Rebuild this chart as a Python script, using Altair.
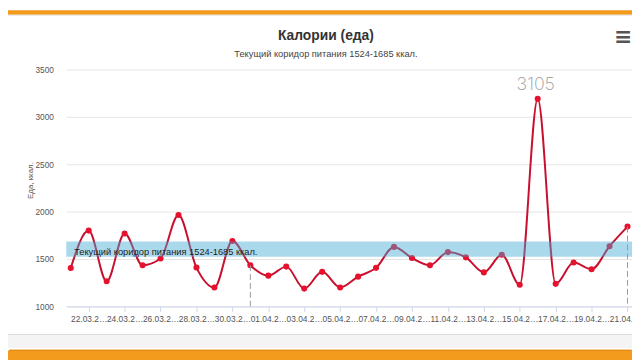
import altair as alt
import pandas as pd

# ---------------- data ----------------
dates = [
    "21.03.2020", "22.03.2020", "23.03.2020", "24.03.2020", "25.03.2020", "26.03.2020",
    "27.03.2020", "28.03.2020", "29.03.2020", "30.03.2020", "31.03.2020", "01.04.2020",
    "02.04.2020", "03.04.2020", "04.04.2020", "05.04.2020", "06.04.2020", "07.04.2020",
    "08.04.2020", "09.04.2020", "10.04.2020", "11.04.2020", "12.04.2020", "13.04.2020",
    "14.04.2020", "15.04.2020", "16.04.2020", "17.04.2020", "18.04.2020", "19.04.2020",
    "20.04.2020", "21.04.2020",
]
calories = [
    1405, 1800, 1265, 1770, 1435, 1505, 1965, 1410, 1200, 1690, 1435, 1325,
    1420, 1188, 1365, 1200, 1314, 1407, 1628, 1511, 1435, 1573, 1518, 1359,
    1545, 1228, 3190, 1238, 1463, 1393, 1635, 1842,
]
label_dates = dates[1::2]
band_low = 1524
band_high = 1685
marker_dates = ["31.03.2020", "21.04.2020"]
peak_note = "3105"
y_ticks = [1000, 1500, 2000, 2500, 3000, 3500]

title_text = "Калории (еда)"
subtitle_text = "Текущий коридор питания 1524-1685 ккал."
band_text = "Текущий коридор питания 1524-1685 ккал."
y_title = "Еда, ккал."

W, H = 573, 240
FONT = "Liberation Sans"

df = pd.DataFrame({"date": dates, "kcal": calories})
band_df = pd.DataFrame({"lo": [band_low], "hi": [band_high],
                        "mid": [(band_low + band_high) / 2], "t": [band_text]})
marker_df = df[df["date"].isin(marker_dates)].assign(base=1000)
peak_df = df[df["kcal"] == df["kcal"].max()].assign(note=peak_note)
one = pd.DataFrame({"t": [""]})

x_enc = alt.X(
    "date:N",
    scale=alt.Scale(type="point", domain=dates, padding=0.25),
    axis=alt.Axis(
        values=label_dates, title=None, labelExpr="slice(datum.label, 0, 7) + '…'",
        domain=True, domainColor="#ccd6eb", ticks=True, tickColor="#ccd6eb", tickSize=5,
        labelFontSize=8.5, labelColor="#555555", labelPadding=3, labelAngle=0,
        labelOverlap=False, labelBound=False, labelFlush=False, grid=False, labelFont=FONT,
    ),
)
y_scale = alt.Scale(domain=[1000, 3500], nice=False, zero=False)
y_enc = alt.Y(
    "kcal:Q",
    scale=y_scale,
    axis=alt.Axis(
        values=y_ticks, format="d", title=y_title, grid=True, gridColor="#e6e6e6", domain=False,
        ticks=False, tickSize=0, labelPadding=13, labelFontSize=8.4, labelColor="#555555",
        labelFont=FONT, titleFont=FONT, titleFontSize=8, titleFontWeight="normal",
        titleColor="#555555", titleX=-36.5, titleY=112, titleAngle=270,
        titleAlign="center", titleBaseline="middle",
    ),
)

base = alt.Chart(df)
line = base.mark_line(interpolate="monotone", color="#C8102E", strokeWidth=2).encode(x=x_enc, y=y_enc)
points = base.mark_circle(size=38, color="#E5112E", opacity=1).encode(x="date:N", y="kcal:Q")

band = alt.Chart(band_df).mark_rect(color="#44AAD5", opacity=0.45).encode(
    y=alt.Y("lo:Q", scale=y_scale), y2="hi:Q"
)
band_label = alt.Chart(band_df).mark_text(
    align="left", baseline="middle", fontSize=9.4, color="#222222", font=FONT, dy=3
).encode(x=alt.value(8), y=alt.Y("mid:Q", scale=y_scale), text="t:N")

markers = alt.Chart(marker_df).mark_rule(
    color="#9a9a9a", strokeWidth=1, strokeDash=[6, 3]
).encode(x="date:N", y="kcal:Q", y2="base:Q")

note = alt.Chart(peak_df).mark_text(
    font="Inter", fontWeight=200, fontSize=18, color="#9a9a9a", dy=-14, dx=-2, baseline="middle"
).encode(x="date:N", y="kcal:Q", text="note:N")

title = alt.Chart(pd.DataFrame({"t": [title_text]})).mark_text(
    font=FONT, fontSize=14, fontWeight="bold", color="#333333", align="center", baseline="middle"
).encode(x=alt.value(263), y=alt.value(-34), text="t:N")
subtitle = alt.Chart(pd.DataFrame({"t": [subtitle_text]})).mark_text(
    font=FONT, fontSize=9.4, color="#444444", align="center", baseline="middle"
).encode(x=alt.value(263), y=alt.value(-16), text="t:N")
menu = alt.Chart(pd.DataFrame({"t": ["≡"]})).mark_text(
    font="DejaVu Sans", fontSize=22, fontWeight="bold", color="#555555", align="center", baseline="middle"
).encode(x=alt.value(564), y=alt.value(-33), text="t:N")

# page chrome around the chart card
top_bar = alt.Chart(one).mark_rect(color="#F29B1D").encode(
    x=alt.value(-59), x2=alt.value(W), y=alt.value(-60), y2=alt.value(-55.5))
top_shadow = alt.Chart(one).mark_rect(color="#e4e4e4").encode(
    x=alt.value(-59), x2=alt.value(W), y=alt.value(-55.5), y2=alt.value(-54.5))
card_edge = alt.Chart(one).mark_rect(color="#dcdcdc").encode(
    x=alt.value(-59), x2=alt.value(W), y=alt.value(268), y2=alt.value(269))
gap_strip = alt.Chart(one).mark_rect(color="#f4f4f4").encode(
    x=alt.value(-59), x2=alt.value(W), y=alt.value(269), y2=alt.value(282))
bottom_bar = alt.Chart(one).mark_rect(color="#F29B1D", cornerRadius=2).encode(
    x=alt.value(-59), x2=alt.value(W), y=alt.value(284), y2=alt.value(300))
bottom_edge = alt.Chart(one).mark_rect(color="#DF8612").encode(
    x=alt.value(-58), x2=alt.value(W), y=alt.value(284), y2=alt.value(285))

chart = alt.layer(
    line, points, band, band_label, markers, note, title, subtitle, menu,
    top_bar, top_shadow, card_edge, gap_strip, bottom_bar, bottom_edge,
).properties(
    width=W, height=H,
    autosize=alt.AutoSizeParams(type="none"),
    padding={"left": 59, "top": 60, "right": 0, "bottom": 52},
    background="white",
).configure_view(strokeWidth=0)

chart.save("out.html", embed_options={"renderer": "svg", "actions": False})
